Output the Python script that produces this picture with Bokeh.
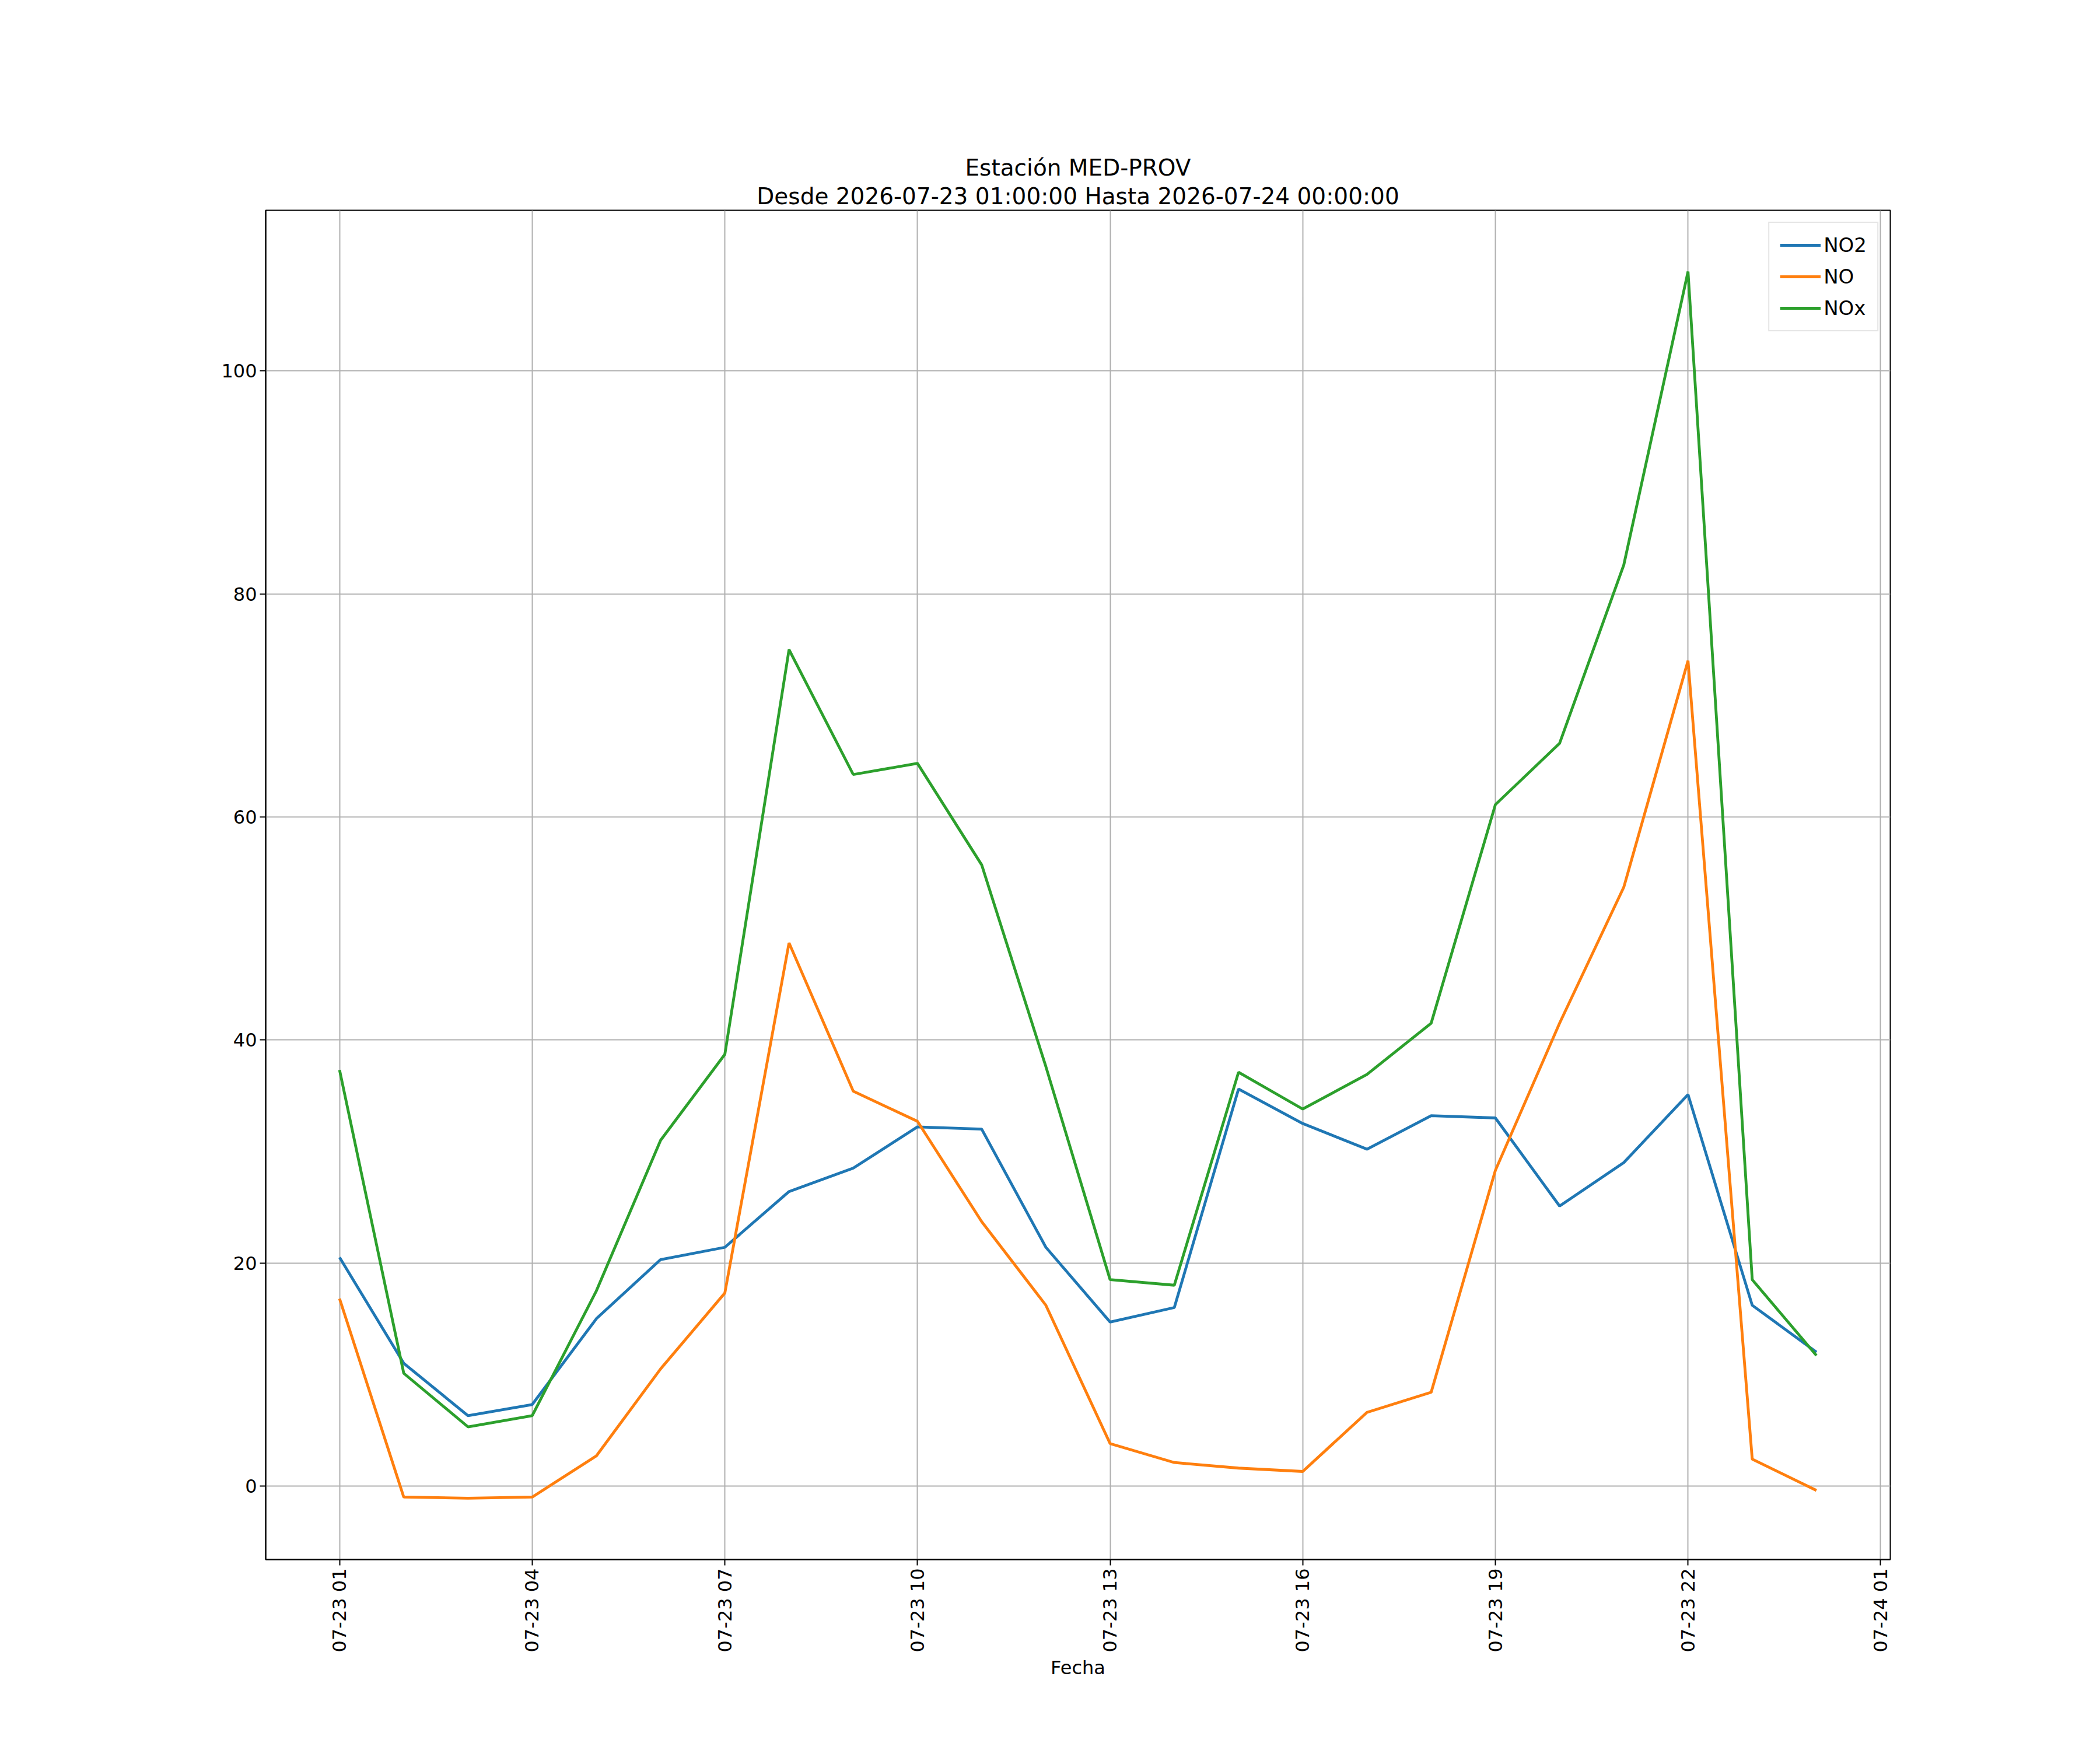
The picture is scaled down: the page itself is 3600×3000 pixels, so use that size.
import math
from datetime import datetime, timedelta
from bokeh.plotting import figure
from bokeh.models import Title, FixedTicker, DatetimeTickFormatter, Range1d, Legend, LegendItem
from bokeh.embed import file_html
from bokeh.resources import INLINE

start = datetime(2026, 7, 23, 1)
times = [start + timedelta(hours=i) for i in range(24)]
no2 = [20.5, 11, 6.3, 7.3, 15, 20.3, 21.4, 26.4, 28.5, 32.2, 32, 21.4, 14.7, 16, 35.6, 32.5, 30.2, 33.2, 33, 25.1, 29, 35.1, 16.2, 12]
no = [16.8, -1, -1.1, -1, 2.7, 10.5, 17.3, 48.7, 35.4, 32.7, 23.7, 16.2, 3.8, 2.1, 1.6, 1.3, 6.6, 8.4, 28.3, 41.5, 53.7, 74, 2.4, -0.4]
nox = [37.3, 10.1, 5.3, 6.3, 17.5, 31, 38.7, 75, 63.8, 64.8, 55.7, 37.6, 18.5, 18, 37.1, 33.8, 36.9, 41.5, 61.1, 66.6, 82.6, 108.9, 18.5, 11.7]
names = ["NO2", "NO", "NOx"]
colors = ["#1f77b4", "#ff7f0e", "#2ca02c"]

span = times[-1] - times[0]
x0 = times[0] - span * 0.05
x1 = times[-1] + span * 0.05

p = figure(width=3580, height=2980, output_backend="svg", toolbar_location=None,
           x_axis_type="datetime", x_range=Range1d(x0, x1), y_range=Range1d(-6.6, 114.4),
           min_border_left=455, min_border_right=340, min_border_top=360, min_border_bottom=307,
           background_fill_color="white", border_fill_color="white")
p.add_layout(Title(text="Desde 2026-07-23 01:00:00 Hasta 2026-07-24 00:00:00", align="center",
                   text_font_size="39px", text_font_style="normal", text_font="DejaVu Sans",
                   text_color="black", standoff=4), "above")
p.add_layout(Title(text="Estación MED-PROV", align="center",
                   text_font_size="39px", text_font_style="normal", text_font="DejaVu Sans",
                   text_color="black", standoff=0), "above")

items = []
for ys, n, c in zip([no2, no, nox], names, colors):
    r = p.line(times, ys, line_color=c, line_width=4.8)
    items.append(LegendItem(label=n, renderers=[r]))

tick_ms = [(start + timedelta(hours=3 * i)).timestamp() * 1000 for i in range(9)]
p.xaxis.ticker = FixedTicker(ticks=tick_ms)
fmt = "%m-%d %H"
p.xaxis.formatter = DatetimeTickFormatter(hours=fmt, days=fmt, hourmin=fmt, minutes=fmt, months=fmt)
p.xaxis.major_label_orientation = math.pi / 2
p.yaxis.ticker = FixedTicker(ticks=[0, 20, 40, 60, 80, 100])
p.xaxis.axis_label = "Fecha"
for ax in [p.xaxis[0], p.yaxis[0]]:
    ax.major_label_text_font_size = "32px"
    ax.major_label_text_font = "DejaVu Sans"
    ax.major_label_text_color = "black"
    ax.axis_label_text_font_size = "32px"
    ax.axis_label_text_font_style = "normal"
    ax.axis_label_text_font = "DejaVu Sans"
    ax.axis_label_text_color = "black"
    ax.major_tick_out = 10
    ax.major_tick_in = 0
    ax.minor_tick_out = 0
    ax.major_tick_line_width = 2
    ax.axis_line_width = 2
p.grid.grid_line_color = "#b0b0b0"
p.grid.grid_line_width = 2
p.outline_line_color = "black"
p.outline_line_width = 2

leg = Legend(items=items, location="top_right", label_text_font_size="34px",
             label_text_font="DejaVu Sans", label_text_color="black",
             border_line_color="#cccccc", border_line_width=2,
             glyph_width=70, spacing=14, padding=18, margin=20)
p.add_layout(leg)

open("out.html", "w").write(file_html(p, INLINE))
